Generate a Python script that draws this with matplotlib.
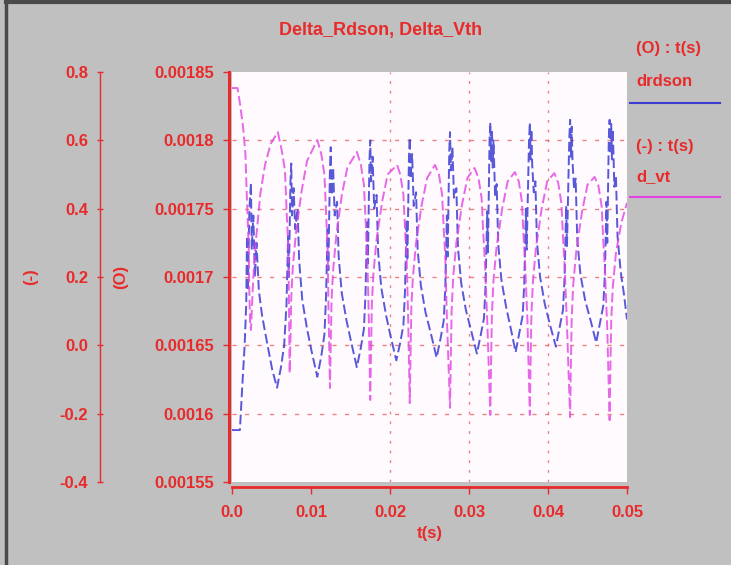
import matplotlib
matplotlib.use("Agg")
import matplotlib.pyplot as plt
from matplotlib.lines import Line2D

plt.rcParams['font.family'] = ['Liberation Sans', 'DejaVu Sans']
plt.rcParams['font.weight'] = 'bold'
plt.rcParams['axes.labelweight'] = 'bold'

RED = '#e82a2a'
BLUE = '#3b3bd2'
MAGENTA = '#e244e2'
FS = 12

drdson_t = [
    0.0000, 0.0010, 0.0013, 0.0016, 0.0018, 0.0019, 0.0020, 0.0022, 0.0024, 0.0025,
    0.0027, 0.0029, 0.0031, 0.0034, 0.0038, 0.0045, 0.0051, 0.0057,
    0.0062, 0.0066, 0.0069, 0.0071, 0.0072, 0.0074, 0.0075, 0.0076, 0.0078, 0.0080,
    0.0083, 0.0085, 0.0089, 0.0095, 0.0101, 0.0108,
    0.0113, 0.0117, 0.0119, 0.0121, 0.0122, 0.0124, 0.0125, 0.0126, 0.0128, 0.0130,
    0.0133, 0.0135, 0.0139, 0.0145, 0.0151, 0.0158,
    0.0163, 0.0167, 0.0169, 0.0171, 0.0172, 0.0174, 0.0175, 0.0176, 0.0178, 0.0180,
    0.0183, 0.0185, 0.0189, 0.0195, 0.0201, 0.0208,
    0.0213, 0.0217, 0.0219, 0.0221, 0.0222, 0.0224, 0.0225, 0.0226, 0.0228, 0.0230,
    0.0233, 0.0235, 0.0239, 0.0245, 0.0252, 0.0259,
    0.0264, 0.0268, 0.0270, 0.0272, 0.0273, 0.0275, 0.0276, 0.0277, 0.0279, 0.0281,
    0.0284, 0.0286, 0.0290, 0.0296, 0.0303, 0.0310,
    0.0315, 0.0319, 0.0321, 0.0323, 0.0324, 0.0326, 0.0327, 0.0328, 0.0329, 0.0330,
    0.0331, 0.0333, 0.0335, 0.0337, 0.0341, 0.0347, 0.0353, 0.0359,
    0.0364, 0.0368, 0.0370, 0.0372, 0.0373, 0.0376, 0.0377, 0.0378, 0.0379, 0.0380,
    0.0382, 0.0384, 0.0386, 0.0390, 0.0396, 0.0403, 0.0410,
    0.0415, 0.0419, 0.0421, 0.0423, 0.0424, 0.0427, 0.0428, 0.0429, 0.0430, 0.0431,
    0.0433, 0.0435, 0.0437, 0.0441, 0.0447, 0.0454, 0.0461,
    0.0466, 0.0470, 0.0472, 0.0474, 0.0475, 0.0477, 0.0478, 0.0479, 0.0480, 0.0481,
    0.0482, 0.0484, 0.0486, 0.0488, 0.0492, 0.0496, 0.0500,
]
drdson_v = [
    0.001588, 0.001588, 0.001620, 0.001650, 0.001680, 0.001730, 0.001690, 0.001750, 0.001769, 0.001720,
    0.001745, 0.001700, 0.001725, 0.001690, 0.001672, 0.001650, 0.001632, 0.001619,
    0.001634, 0.001650, 0.001680, 0.001730, 0.001700, 0.001770, 0.001783, 0.001745, 0.001765, 0.001735,
    0.001750, 0.001712, 0.001683, 0.001662, 0.001645, 0.001627,
    0.001642, 0.001658, 0.001685, 0.001735, 0.001705, 0.001780, 0.001795, 0.001760, 0.001780, 0.001745,
    0.001755, 0.001715, 0.001688, 0.001668, 0.001652, 0.001634,
    0.001648, 0.001662, 0.001688, 0.001740, 0.001710, 0.001785, 0.001800, 0.001770, 0.001788, 0.001750,
    0.001760, 0.001718, 0.001692, 0.001672, 0.001656, 0.001639,
    0.001652, 0.001665, 0.001690, 0.001742, 0.001712, 0.001788, 0.001802, 0.001772, 0.001790, 0.001752,
    0.001762, 0.001720, 0.001694, 0.001674, 0.001658, 0.001641,
    0.001655, 0.001668, 0.001692, 0.001745, 0.001715, 0.001792, 0.001806, 0.001778, 0.001795, 0.001758,
    0.001765, 0.001722, 0.001696, 0.001676, 0.001660, 0.001644,
    0.001658, 0.001670, 0.001694, 0.001748, 0.001718, 0.001800, 0.001813, 0.001785, 0.001808, 0.001780,
    0.001800, 0.001760, 0.001768, 0.001724, 0.001698, 0.001678, 0.001662, 0.001645,
    0.001660, 0.001672, 0.001696, 0.001750, 0.001720, 0.001800, 0.001813, 0.001786, 0.001808, 0.001782,
    0.001762, 0.001770, 0.001726, 0.001700, 0.001680, 0.001664, 0.001649,
    0.001664, 0.001676, 0.001700, 0.001752, 0.001722, 0.001802, 0.001815, 0.001788, 0.001810, 0.001785,
    0.001764, 0.001772, 0.001728, 0.001702, 0.001683, 0.001668, 0.001652,
    0.001667, 0.001679, 0.001702, 0.001755, 0.001725, 0.001802, 0.001815, 0.001790, 0.001812, 0.001786,
    0.001808, 0.001766, 0.001774, 0.001730, 0.001704, 0.001688, 0.001669,
]

dvt_t = [
    0.0000, 0.0007, 0.0010, 0.0014, 0.0017, 0.0019, 0.0021, 0.0022, 0.0023, 0.0024,
    0.0025, 0.0027, 0.0030, 0.0036, 0.0042, 0.0049, 0.0058,
    0.0063, 0.0067, 0.0069, 0.0071, 0.0072, 0.0073, 0.0074, 0.0075, 0.0077, 0.0081,
    0.0088, 0.0095, 0.0108,
    0.0113, 0.0117, 0.0119, 0.0121, 0.0122, 0.0124, 0.0125, 0.0126, 0.0128, 0.0132,
    0.0139, 0.0146, 0.0158,
    0.0163, 0.0167, 0.0169, 0.0171, 0.0173, 0.0175, 0.0176, 0.0177, 0.0179, 0.0183,
    0.0190, 0.0197, 0.0209,
    0.0213, 0.0217, 0.0219, 0.0221, 0.0223, 0.0225, 0.0226, 0.0227, 0.0229, 0.0233,
    0.0240, 0.0247, 0.0257,
    0.0262, 0.0266, 0.0268, 0.0270, 0.0272, 0.0276, 0.0277, 0.0278, 0.0280, 0.0284,
    0.0291, 0.0298, 0.0307,
    0.0312, 0.0316, 0.0318, 0.0320, 0.0323, 0.0327, 0.0328, 0.0329, 0.0331, 0.0335,
    0.0342, 0.0349, 0.0358,
    0.0363, 0.0367, 0.0369, 0.0371, 0.0374, 0.0377, 0.0378, 0.0379, 0.0381, 0.0385,
    0.0392, 0.0399, 0.0408,
    0.0413, 0.0417, 0.0419, 0.0421, 0.0424, 0.0428, 0.0429, 0.0430, 0.0432, 0.0436,
    0.0443, 0.0450, 0.0459,
    0.0464, 0.0468, 0.0470, 0.0472, 0.0475, 0.0478, 0.0479, 0.0480, 0.0482, 0.0486,
    0.0493, 0.0500,
]
dvt_v = [
    0.753, 0.753, 0.709, 0.639, 0.560, 0.420, 0.300, 0.150, 0.060, 0.045,
    0.100, 0.200, 0.300, 0.446, 0.530, 0.590, 0.624,
    0.570, 0.513, 0.400, 0.300, 0.150, -0.081, 0.020, 0.140, 0.230, 0.330,
    0.450, 0.540, 0.601,
    0.560, 0.500, 0.390, 0.290, 0.130, -0.125, 0.000, 0.130, 0.220, 0.320,
    0.440, 0.520, 0.566,
    0.530, 0.470, 0.370, 0.280, 0.100, -0.160, -0.010, 0.120, 0.210, 0.310,
    0.420, 0.500, 0.528,
    0.500, 0.440, 0.340, 0.260, 0.080, -0.169, -0.020, 0.110, 0.200, 0.300,
    0.410, 0.490, 0.528,
    0.500, 0.440, 0.340, 0.260, 0.080, -0.183, -0.030, 0.100, 0.200, 0.300,
    0.410, 0.490, 0.519,
    0.490, 0.430, 0.330, 0.250, 0.080, -0.204, -0.040, 0.090, 0.190, 0.290,
    0.400, 0.480, 0.507,
    0.480, 0.420, 0.320, 0.240, 0.070, -0.204, -0.040, 0.090, 0.190, 0.290,
    0.400, 0.480, 0.504,
    0.475, 0.415, 0.315, 0.235, 0.060, -0.210, -0.050, 0.080, 0.180, 0.280,
    0.390, 0.470, 0.493,
    0.465, 0.405, 0.305, 0.225, 0.050, -0.219, -0.060, 0.070, 0.170, 0.270,
    0.360, 0.417,
]

x_ticks = [0.0, 0.01, 0.02, 0.03, 0.04, 0.05]
x_labels = ['0.0', '0.01', '0.02', '0.03', '0.04', '0.05']
o_ticks = [0.00155, 0.0016, 0.00165, 0.0017, 0.00175, 0.0018, 0.00185]
o_labels = ['0.00155', '0.0016', '0.00165', '0.0017', '0.00175', '0.0018', '0.00185']
m_ticks = [-0.4, -0.2, 0.0, 0.2, 0.4, 0.6, 0.8]
m_labels = ['-0.4', '-0.2', '0.0', '0.2', '0.4', '0.6', '0.8']
x_grid = [0.02, 0.03, 0.04]

W, H = 731, 565
PT = 72 / 100  # points per pixel at dpi 100
fig = plt.figure(figsize=(W / 100, H / 100), dpi=100, facecolor='#c0c0c0')

# window frame
fig.add_artist(Line2D([6 / W, 6 / W], [0, 1], color='#4a4a4a', lw=2.5))
fig.add_artist(Line2D([6 / W, 1], [1 - 1.5 / H, 1 - 1.5 / H], color='#4a4a4a', lw=3))

ax = fig.add_axes([232 / W, 83 / H, 395 / W, 410 / H])
ax.set_facecolor('#fffafe')
ax.set_xlim(0, 0.05)
ax.set_ylim(0.00155, 0.00185)

for g in o_ticks[1:-1]:
    ax.axhline(g, color='#e05050', lw=1, ls=(0, (3, 6)), alpha=0.7, zorder=1)
for g in x_grid:
    ax.axvline(g, color='#e05050', lw=1, ls=(0, (2, 5)), alpha=0.7, zorder=1)

ax.plot(drdson_t, drdson_v, color=BLUE, lw=1.4, ls=(0, (5, 2)), alpha=0.85, zorder=3)

for s in ['top', 'right']:
    ax.spines[s].set_visible(False)
ax.spines['left'].set_position(('outward', 3 * PT))
ax.spines['left'].set_color(RED)
ax.spines['left'].set_linewidth(2.2)
ax.spines['bottom'].set_position(('outward', 5 * PT))
ax.spines['bottom'].set_color(RED)
ax.spines['bottom'].set_linewidth(2)

ax.set_xticks(x_ticks, x_labels)
ax.set_yticks(o_ticks, o_labels)
ax.tick_params(axis='x', colors=RED, labelcolor=RED, labelsize=FS, length=5, width=1, pad=8)
ax.tick_params(axis='y', colors=RED, labelcolor=RED, labelsize=FS, length=4, width=1, pad=7)
ax.set_xlabel('t(s)', color=RED, fontsize=FS, labelpad=4)
ax.set_ylabel('(O)', color=RED, fontsize=FS)
ax.yaxis.set_label_coords(-0.262, 0.5)

ax2 = ax.twinx()
ax2.set_ylim(-0.4, 0.8)
ax2.plot(dvt_t, dvt_v, color=MAGENTA, lw=1.4, ls=(0, (5, 2)), alpha=0.8, zorder=3)
for s in ['top', 'right', 'bottom']:
    ax2.spines[s].set_visible(False)
ax2.spines['left'].set_visible(True)
ax2.spines['left'].set_position(('outward', 132 * PT))
ax2.spines['left'].set_color(RED)
ax2.spines['left'].set_linewidth(1)
ax2.yaxis.set_ticks_position('left')
ax2.yaxis.set_label_position('left')
ax2.set_yticks(m_ticks, m_labels)
ax2.tick_params(axis='y', colors=RED, labelcolor=RED, labelsize=FS, length=5, width=1,
                direction='inout', pad=6)
ax2.set_ylabel('(-)', color=RED, fontsize=FS)
ax2.yaxis.set_label_coords(-0.49, 0.5)

fig.text(381 / W, 1 - 30 / H, 'Delta_Rdson, Delta_Vth', color=RED, fontsize=13,
         ha='center', va='center')

# legend block on the right
fig.text(636 / W, 1 - 49 / H, '(O) : t(s)', color=RED, fontsize=FS, va='center')
fig.text(636 / W, 1 - 82 / H, 'drdson', color=RED, fontsize=FS, va='center')
fig.add_artist(Line2D([630 / W, 720 / W], [1 - 103 / H, 1 - 103 / H], color=BLUE, lw=1.5))
fig.text(636 / W, 1 - 146 / H, '(-) : t(s)', color=RED, fontsize=FS, va='center')
fig.text(636 / W, 1 - 177 / H, 'd_vt', color=RED, fontsize=FS, va='center')
fig.add_artist(Line2D([630 / W, 720 / W], [1 - 197 / H, 1 - 197 / H], color=MAGENTA, lw=1.5))

fig.savefig('out.png', dpi=100, facecolor=fig.get_facecolor())
